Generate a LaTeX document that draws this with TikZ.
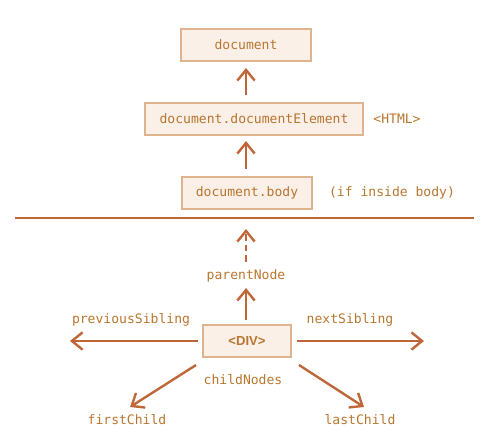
\documentclass[tikz,border=0pt]{standalone}
\usepackage{fontspec}
\setmonofont{DejaVu Sans Mono}
\newfontfamily\divfont{Liberation Sans}
\usetikzlibrary{arrows.meta}
\definecolor{lineC}{HTML}{C0673A}
\definecolor{txtC}{HTML}{B8762F}
\definecolor{boxB}{HTML}{DDB48E}
\definecolor{boxF}{HTML}{FBF0E8}
\tikzset{
  box/.style={draw=boxB, fill=boxF, line width=1.6pt, inner sep=0pt, text=txtC, font=\ttfamily\fontsize{9.8}{11}\selectfont},
  lbl/.style={text=txtC, inner sep=0pt, font=\ttfamily\fontsize{9.8}{11}\selectfont},
  arr/.style={draw=lineC, line width=1.8pt, -{Straight Barb[length=8pt, width=13pt, line width=1.8pt]}},
}
\begin{document}
\begin{tikzpicture}[x=0.75pt, y=-0.75pt]
\useasboundingbox (0,0) rectangle (495,444);
\node[box, minimum width=97pt, minimum height=24pt] (doc) at (246,45) {document};
\node[box, minimum width=164pt, minimum height=24.5pt] (docel) at (254,119) {document.documentElement};
\node[lbl] (html) at (397,119) {<HTML>};
\node[box, minimum width=98pt, minimum height=24pt] (body) at (247,193) {document.body};
\node[lbl] (ifin) at (392,193) {(if inside body)};
\coordinate (sepL) at (15,218);
\coordinate (sepR) at (474,218);
\draw[lineC, line width=1.6pt] (sepL) -- (sepR);
\node[box, minimum width=66pt, minimum height=23.5pt, font=\divfont\bfseries\fontsize{9.8}{11}\selectfont] (div) at (247,341) {<DIV>};
\node[lbl] (parent) at (246,276) {parentNode};
\node[lbl] (prev) at (131,320) {previousSibling};
\node[lbl] (next) at (350,320) {nextSibling};
\node[lbl] (child) at (243,380) {childNodes};
\node[lbl] (first) at (127,420) {firstChild};
\node[lbl] (last) at (360,420) {lastChild};
\coordinate (docelTop) at (246,95);
\coordinate (docBot) at (246,68);
\coordinate (bodyTop) at (246,169);
\coordinate (docelBot) at (246,141);
\coordinate (dashTip) at (246,229);
\coordinate (dashBase) at (246,262);
\coordinate (pTip) at (246,288);
\coordinate (pBase) at (246,320);
\coordinate (leftBase) at (198,341);
\coordinate (leftTip) at (70,341);
\coordinate (rightBase) at (297,341);
\coordinate (rightTip) at (424,341);
\coordinate (flTip) at (130,407);
\coordinate (lrTip) at (364,407);
\coordinate (flBase) at (196,365);
\coordinate (lrBase) at (299,365);
\draw[arr] (docelTop) -- (docBot);
\draw[arr] (bodyTop) -- (docelBot);
\draw[arr, dash pattern=on 5pt off 3pt] (dashBase) -- (dashTip);
\draw[arr] (pBase) -- (pTip);
\draw[arr] (leftBase) -- (leftTip);
\draw[arr] (rightBase) -- (rightTip);
\draw[arr] (flBase) -- (flTip);
\draw[arr] (lrBase) -- (lrTip);
\end{tikzpicture}
\end{document}
